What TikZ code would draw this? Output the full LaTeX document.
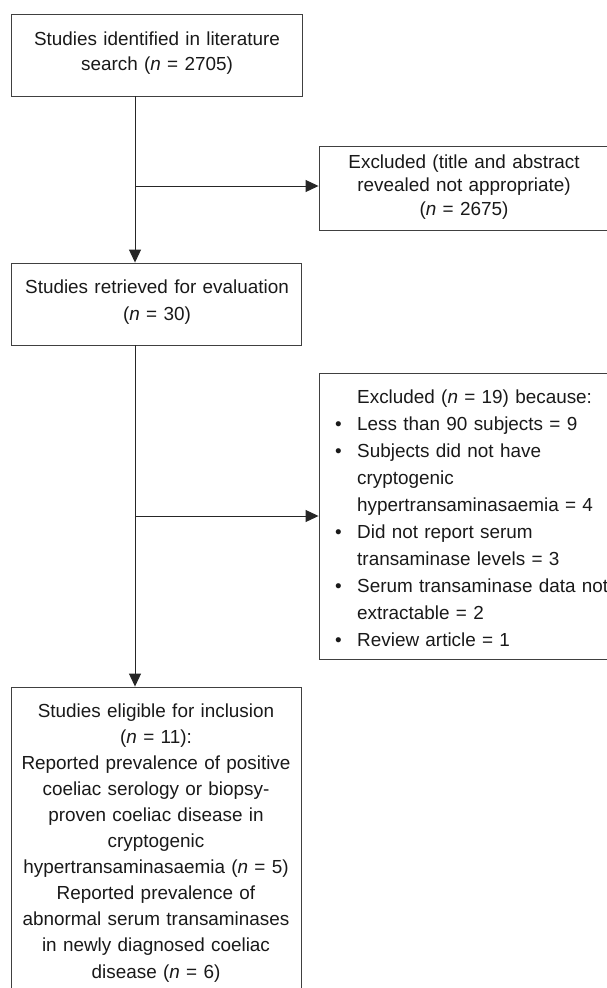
\documentclass[tikz,border=0pt]{standalone}
\usepackage{fontspec}
\setmainfont{Liberation Sans}
\usetikzlibrary{arrows.meta,fit}
\newcommand{\bul}{\leavevmode\llap{\textbullet\hspace{15.5pt}}}
\begin{document}
\begin{tikzpicture}[x=1pt,y=-1pt,
  box/.style={draw=black!75, line width=0.9pt, inner sep=0pt},
  conn/.style={draw=black!85, line width=1pt},
  arr/.style={conn, -{Triangle[length=13pt,width=12pt]}},
  txt/.style={inner sep=0pt, text=black!90, anchor=base}
]
\useasboundingbox (0,0) rectangle (606,988);

% boxes
\node[box, fit={(11.5,14.5) (302,96)}] (b1) {};
\node[box, fit={(319,146) (612,230)}] (b2) {};
\node[box, fit={(11.5,263) (301,345)}] (b3) {};
\node[box, fit={(319,373) (612,659)}] (b4) {};
\node[box, fit={(11.5,687) (301,1000)}] (b5) {};

% texts
\node[txt, text width=280pt, align=center, font=\fontsize{18.9}{25}\selectfont] (t1) at (157,45)
  {Studies identified in literature\\search (\textit{n} = 2705)};
\node[txt, text width=270pt, align=center, font=\fontsize{18.9}{23.5}\selectfont] (t2) at (464,168)
  {Excluded (title and abstract\\revealed not appropriate)\\(\textit{n} = 2675)};
\node[txt, text width=280pt, align=center, font=\fontsize{18.9}{27}\selectfont] (t3) at (157,293)
  {Studies retrieved for evaluation\\(\textit{n} = 30)};
\node[txt, anchor=base west, text width=260pt, align=left, font=\fontsize{18.9}{27.1}\selectfont] (t4) at (357,403)
  {Excluded (\textit{n} = 19) because:\\
   \bul Less than 90 subjects = 9\\
   \bul Subjects did not have\\
   cryptogenic\\
   hypertransaminasaemia = 4\\
   \bul Did not report serum\\
   transaminase levels = 3\\
   \bul Serum transaminase data not\\
   extractable = 2\\
   \bul Review article = 1};
\node[txt, text width=285pt, align=center, font=\fontsize{18.9}{26.1}\selectfont] (t5) at (156,717)
  {Studies eligible for inclusion\\
   (\textit{n} = 11):\\
   Reported prevalence of positive\\
   coeliac serology or biopsy-\\
   proven coeliac disease in\\
   cryptogenic\\
   hypertransaminasaemia (\textit{n} = 5)\\
   Reported prevalence of\\
   abnormal serum transaminases\\
   in newly diagnosed coeliac\\
   disease (\textit{n} = 6)};

% connectors
\coordinate (j1) at (135,186);
\coordinate (j2) at (135,516);
\draw[arr] (b1.south -| j1) -- (b3.north -| j1);
\draw[arr] (j1) -- (j1 -| b2.west);
\draw[arr] (b3.south -| j1) -- (b5.north -| j1);
\draw[arr] (j2) -- (j2 -| b4.west);
\end{tikzpicture}
\end{document}
